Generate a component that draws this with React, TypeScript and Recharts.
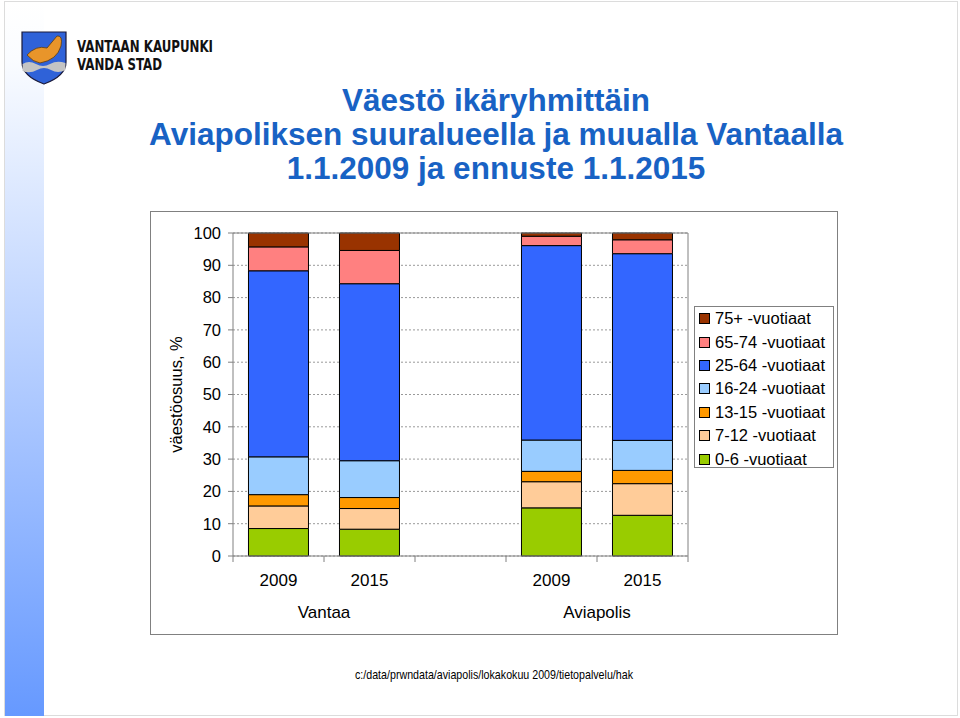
import React from "react";
import { BarChart, Bar, XAxis, YAxis, CartesianGrid, Legend, ReferenceLine } from "recharts";

// ---- data ----
const categories = ["Vantaa 2009", "Vantaa 2015", "gap", "Aviapolis 2009", "Aviapolis 2015"];
const yearLabels = ["2009", "2015", "", "2009", "2015"];
const groupLabels = ["Vantaa", "Aviapolis"];
const groupBoundaries = [1, 4];
const yTicks = [0, 10, 20, 30, 40, 50, 60, 70, 80, 90, 100];

const seriesNames = [
  "0-6 -vuotiaat",
  "7-12 -vuotiaat",
  "13-15 -vuotiaat",
  "16-24 -vuotiaat",
  "25-64 -vuotiaat",
  "65-74 -vuotiaat",
  "75+ -vuotiaat",
];
const seriesColors = ["#99CC00", "#FFCC99", "#FF9900", "#99CCFF", "#3366FF", "#FF8080", "#993300"];

const age0_6 = [8.5, 8.3, null, 14.9, 12.6];
const age7_12 = [7.0, 6.4, null, 8.1, 9.8];
const age13_15 = [3.5, 3.4, null, 3.2, 4.1];
const age16_24 = [11.7, 11.4, null, 9.7, 9.3];
const age25_64 = [57.6, 54.8, null, 60.2, 57.8];
const age65_74 = [7.4, 10.3, null, 2.9, 4.3];
const age75 = [4.3, 5.4, null, 1.0, 2.1];
const seriesValues = [age0_6, age7_12, age13_15, age16_24, age25_64, age65_74, age75];

const data = categories.map((c, i) => {
  const row: any = { cat: c, pos: i + 0.5 };
  seriesNames.forEach((n, k) => {
    const v = seriesValues[k][i];
    if (v != null) row[n] = v;
  });
  return row;
});

const xTickValues: number[] = [];
for (let i = 0; i <= categories.length; i++) {
  xTickValues.push(i);
  if (i < categories.length) xTickValues.push(i + 0.5);
}

const FONT = "'Liberation Sans', Arial, Helvetica, sans-serif";
const TITLE_COLOR = "#1862C4";

const XTick = (props: any) => {
  const { x, y, payload } = props;
  const v = payload.value as number;
  if (Number.isInteger(v)) {
    const gi = groupBoundaries.indexOf(v);
    return (
      <g>
        <line x1={x} y1={y} x2={x} y2={y + 6} stroke="#808080" strokeWidth={1} />
        {gi >= 0 && (
          <text x={x} y={y + 62} textAnchor="middle" fontFamily={FONT} fontSize={17} fill="#000">
            {groupLabels[gi]}
          </text>
        )}
      </g>
    );
  }
  const idx = Math.floor(v);
  return (
    <text x={x} y={y + 30} textAnchor="middle" fontFamily={FONT} fontSize={17} fill="#000">
      {yearLabels[idx]}
    </text>
  );
};

const YLabel = (props: any) => {
  const vb = props.viewBox || {};
  const cx = (vb.x || 0) - 1;
  const cy = (vb.y || 0) + (vb.height || 0) / 2;
  return (
    <text
      transform={`translate(${cx}, ${cy}) rotate(-90)`}
      textAnchor="middle"
      fontFamily={FONT}
      fontSize={16.5}
      fill="#000"
    >
      väestöosuus, %
    </text>
  );
};

const LegendBox = () => {
  const order = seriesNames.map((n, i) => i).reverse();
  return (
    <div
      style={{
        border: "1px solid #808080",
        background: "#fff",
        width: 140,
        height: 162,
        boxSizing: "border-box",
        padding: "0 0 0 4px",
        fontFamily: FONT,
        fontSize: 16.5,
        color: "#000",
      }}
    >
      {order.map((i) => (
        <div key={i} style={{ height: 23.4, display: "flex", alignItems: "center", whiteSpace: "nowrap" }}>
          <span
            style={{
              display: "inline-block",
              width: 11,
              height: 11,
              boxSizing: "border-box",
              border: "1px solid #000",
              background: seriesColors[i],
              marginRight: 5,
              flex: "0 0 auto",
            }}
          />
          {seriesNames[i]}
        </div>
      ))}
    </div>
  );
};

export default function App() {
  return (
    <div style={{ position: "absolute", left: 0, top: 0, width: 960, height: 718, background: "#fff", overflow: "hidden" }}>
      <svg width={960} height={718} style={{ position: "absolute", left: 0, top: 0 }}>
        <defs>
          <linearGradient id="stripe" x1="0" y1="0" x2="0" y2="1">
            <stop offset="0" stopColor="#ffffff" />
            <stop offset="0.08" stopColor="#fafcff" />
            <stop offset="1" stopColor="#6699FF" />
          </linearGradient>
        </defs>
        {/* page frame */}
        <rect x={4.5} y={1.5} width={953} height={714} fill="none" stroke="#dcdcdc" strokeWidth={1} />
        <rect x={5} y={2} width={39} height={714} fill="url(#stripe)" />
        {/* logo */}
        <path d="M22,32 L66,32 L66,62 Q66,76 44,84 Q22,76 22,62 Z" fill="#2F62D8" stroke="#1a1a3a" strokeWidth={1.2} />
        <path
          d="M22.6,64 Q29,60 36,64 T50,64 T65.4,63 L65.4,70 Q58,74 51,70 T37,70 T22.6,71 Z"
          fill="#C4C4C4"
        />
        <path
          d="M27,55 Q36,45 47,48 L57,36 Q63,35 61,46 Q57,60 40,63 Q33,62 27,55 Z"
          fill="#E8952A"
          stroke="#5a3a10"
          strokeWidth={0.8}
        />
        <text x={77} y={52} fontFamily="'Liberation Sans Narrow', 'DejaVu Sans Condensed', Arial" fontWeight="bold" fontSize={15.5} fill="#111" textLength={136} lengthAdjust="spacingAndGlyphs">
          VANTAAN KAUPUNKI
        </text>
        <text x={77} y={70} fontFamily="'Liberation Sans Narrow', 'DejaVu Sans Condensed', Arial" fontWeight="bold" fontSize={15.5} fill="#111" textLength={85} lengthAdjust="spacingAndGlyphs">
          VANDA STAD
        </text>
        {/* title */}
        <text x={496} y={111} textAnchor="middle" fontFamily={FONT} fontWeight="bold" fontSize={31.5} fill={TITLE_COLOR}>
          Väestö ikäryhmittäin
        </text>
        <text x={496} y={145} textAnchor="middle" fontFamily={FONT} fontWeight="bold" fontSize={31.5} fill={TITLE_COLOR}>
          Aviapoliksen suuralueella ja muualla Vantaalla
        </text>
        <text x={496} y={179} textAnchor="middle" fontFamily={FONT} fontWeight="bold" fontSize={31.5} fill={TITLE_COLOR}>
          1.1.2009 ja ennuste 1.1.2015
        </text>
        {/* chart frame */}
        <rect x={150.5} y={211.5} width={687} height={423} fill="#fff" stroke="#808080" strokeWidth={1} />
        {/* footer */}
        <text x={494} y={679} textAnchor="middle" fontFamily="'Liberation Sans Narrow', Arial" fontSize={13} fill="#000" textLength={278} lengthAdjust="spacingAndGlyphs">
          c:/data/prwndata/aviapolis/lokakokuu 2009/tietopalvelu/hak
        </text>
      </svg>
      <div style={{ position: "absolute", left: 150, top: 211 }}>
        <BarChart
          width={688}
          height={424}
          data={data}
          margin={{ top: 22, right: 150, left: 33, bottom: 19 }}
          barCategoryGap="17%"
        >
          <CartesianGrid horizontal vertical={false} stroke="#9a9a9a" strokeDasharray="2 2" />
          <XAxis xAxisId="cat" dataKey="cat" type="category" hide />
          <XAxis
            dataKey="pos"
            type="number"
            domain={[0, categories.length]}
            allowDataOverflow
            ticks={xTickValues}
            interval={0}
            tick={<XTick />}
            tickLine={false}
            tickSize={0}
            tickMargin={0}
            height={60}
            axisLine={{ stroke: "#808080" }}
          />
          <YAxis
            type="number"
            domain={[0, 100]}
            ticks={yTicks}
            interval={0}
            width={50}
            tickSize={5}
            tickMargin={7}
            tick={{ fontFamily: FONT, fontSize: 16.5, fill: "#000" }}
            tickLine={{ stroke: "#808080" }}
            axisLine={{ stroke: "#808080" }}
            label={<YLabel />}
          />
          <ReferenceLine y={100} stroke="#808080" />
          <ReferenceLine x={categories.length} stroke="#808080" />
          {seriesNames.map((n, k) => (
            <Bar
              key={n}
              xAxisId="cat"
              dataKey={n}
              name={n}
              stackId="a"
              fill={seriesColors[k]}
              stroke="#000"
              strokeWidth={1}
              isAnimationActive={false}
            />
          ))}
          <Legend
            layout="vertical"
            align="center"
            verticalAlign="middle"
            content={<LegendBox />}
            wrapperStyle={{ left: 544, top: 95, width: 140, height: 162 }}
          />
        </BarChart>
      </div>
    </div>
  );
}
